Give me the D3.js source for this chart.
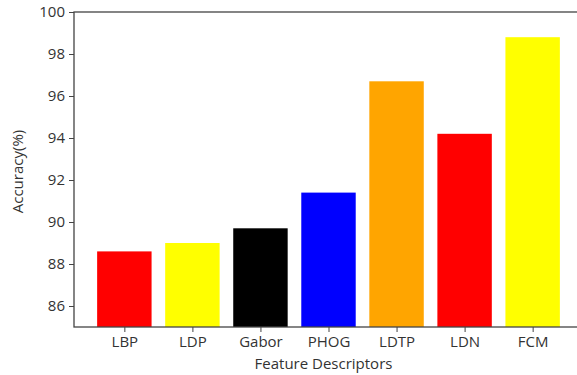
<!DOCTYPE html>
<html><head><meta charset="utf-8">
<script src="https://d3js.org/d3.v7.min.js"></script>
<style>
html,body{margin:0;padding:0;background:#fff;}
svg{display:block;font-family:"Open Sans",sans-serif;}
</style></head>
<body><div id="chart"></div>
<script>
const categories = ["LBP","LDP","Gabor","PHOG","LDTP","LDN","FCM"];
const accuracy = [88.6, 89.0, 89.7, 91.4, 96.7, 94.2, 98.8];
const barColors = ["#ff0000","#ffff00","#000000","#0000ff","#ffa500","#ff0000","#ffff00"];
const yTicks = [86,88,90,92,94,96,98,100];

const W = 577, H = 375;
const m = {left:74, top:12, right:583, bottom:327};
const svg = d3.select("#chart").append("svg").attr("width",W).attr("height",H);

const x = d3.scaleLinear().domain([-0.74, categories.length-1+0.74]).range([m.left, m.right]);
const y = d3.scaleLinear().domain([85,100]).range([m.bottom, m.top]);
const bw = 0.8;

svg.append("g").selectAll("rect").data(categories).join("rect")
  .attr("x",(d,i)=>x(i-bw/2))
  .attr("width",(d,i)=>x(i+bw/2)-x(i-bw/2))
  .attr("y",(d,i)=>y(accuracy[i]))
  .attr("height",(d,i)=>y(85)-y(accuracy[i]))
  .attr("fill",(d,i)=>barColors[i]);

const axisColor = "#444";
const yAxis = svg.append("g").attr("transform",`translate(${m.left},0)`)
  .call(d3.axisLeft(y).tickValues(yTicks).tickSize(5).tickPadding(4).tickFormat(d3.format("d")));
const xAxis = svg.append("g").attr("transform",`translate(0,${m.bottom})`)
  .call(d3.axisBottom(x).tickValues(d3.range(categories.length)).tickSize(5).tickPadding(4).tickFormat(i=>categories[i]));
[yAxis,xAxis].forEach(g=>{
  g.select(".domain").remove();
  g.selectAll(".tick line").attr("stroke",axisColor).attr("stroke-width",1);
  g.selectAll(".tick text").attr("fill","#333").style("font-size","15px").style("font-family","'Open Sans',sans-serif");
});
// spines
svg.append("rect").attr("x",m.left).attr("y",m.top).attr("width",m.right-m.left).attr("height",m.bottom-m.top)
  .attr("fill","none").attr("stroke",axisColor).attr("stroke-width",1.3);

svg.append("text").attr("x",(m.left+m.right)/2 - 5).attr("y",369).attr("text-anchor","middle")
  .attr("fill","#333").style("font-size","15px").text("Feature Descriptors");
svg.append("text").attr("transform",`translate(23,${(m.top+m.bottom)/2+2}) rotate(-90)`).attr("text-anchor","middle")
  .attr("fill","#333").style("font-size","15px").text("Accuracy(%)");
</script></body></html>
